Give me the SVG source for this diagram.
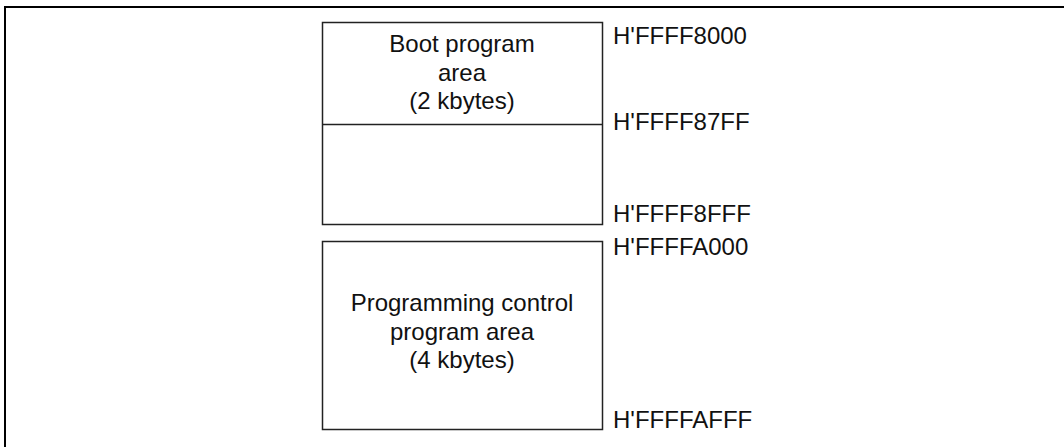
<svg xmlns="http://www.w3.org/2000/svg" width="1064" height="447" viewBox="0 0 1064 447">
<style>
.t{font-family:"Liberation Sans",Arial,sans-serif;font-size:24px;fill:#111}
.c{text-anchor:middle}
.box{fill:#fff;stroke:#222;stroke-width:1.5}
.frame{fill:none;stroke:#000;stroke-width:2}
</style>
<rect width="1064" height="447" fill="#fff"/>
<path class="frame" d="M5,447 V7 H1064"/>
<g id="boot">
<rect class="box" x="322.5" y="22.5" width="280" height="202"/>
<line x1="322.5" y1="124.5" x2="602.5" y2="124.5" stroke="#222" stroke-width="1.5"/>
<text class="t c" x="462" y="52">Boot program</text>
<text class="t c" x="462" y="80.5">area</text>
<text class="t c" x="462" y="109">(2 kbytes)</text>
</g>
<g id="prog">
<rect class="box" x="322.5" y="241.5" width="280" height="188"/>
<text class="t c" x="462" y="311">Programming control</text>
<text class="t c" x="462" y="339.5">program area</text>
<text class="t c" x="462" y="368">(4 kbytes)</text>
</g>
<g id="addresses">
<text class="t" x="613" y="43.5">H'FFFF8000</text>
<text class="t" x="613" y="130">H'FFFF87FF</text>
<text class="t" x="613" y="221.5">H'FFFF8FFF</text>
<text class="t" x="613" y="255">H'FFFFA000</text>
<text class="t" x="613" y="428">H'FFFFAFFF</text>
</g>
<g id="connectors"/>
</svg>
